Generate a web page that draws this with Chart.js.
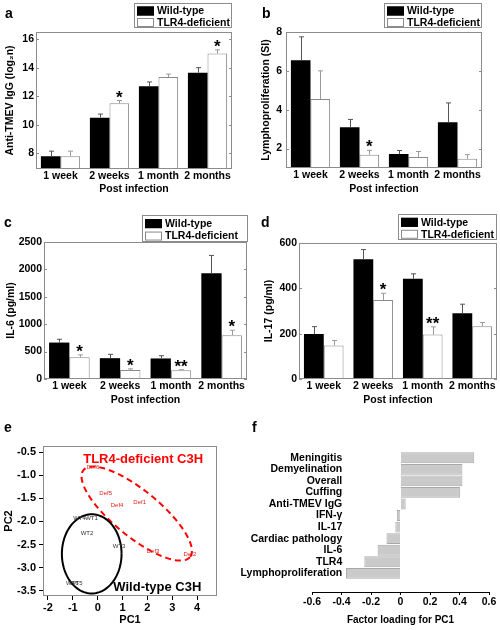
<!DOCTYPE html>
<html>
<head>
<meta charset="utf-8">
<script src="https://cdn.jsdelivr.net/npm/chart.js@4.4.1/dist/chart.umd.min.js"></script>
<style>
  body { margin: 0; background: #fff; }
  #figure { position: relative; width: 500px; height: 630px; overflow: hidden; font-family: 'Liberation Sans', Arial, sans-serif; }
  #figure canvas { position: absolute; }
  .panel-letter { position: absolute; font-weight: bold; font-size: 14px; line-height: 14px; }
</style>
</head>
<body>
<div id="figure">
  <canvas id="chartA" width="250" height="195" style="left:0;top:0"></canvas>
  <canvas id="chartB" width="250" height="195" style="left:250px;top:0"></canvas>
  <canvas id="chartC" width="250" height="211" style="left:0;top:195px"></canvas>
  <canvas id="chartD" width="250" height="211" style="left:250px;top:195px"></canvas>
  <canvas id="chartE" width="230" height="222" style="left:0;top:408px"></canvas>
  <canvas id="chartF" width="270" height="222" style="left:230px;top:408px"></canvas>
  <span class="panel-letter" style="left:5px;top:6px">a</span>
  <span class="panel-letter" style="left:262px;top:6px">b</span>
  <span class="panel-letter" style="left:4px;top:215px">c</span>
  <span class="panel-letter" style="left:261px;top:215px">d</span>
  <span class="panel-letter" style="left:4px;top:420px">e</span>
  <span class="panel-letter" style="left:252px;top:420px">f</span>
</div>
<script>
'use strict';

const timePoints = ['1 week', '2 weeks', '1 month', '2 months'];
const groupNames = ['Wild-type', 'TLR4-deficient'];

// a: anti-TMEV IgG
let iggWildType = [7.8, 10.5, 12.7, 13.65];
let iggWildTypeSem = [0.35, 0.25, 0.3, 0.35];
let iggDeficient = [7.8, 11.5, 13.35, 15.0];
let iggDeficientSem = [0.35, 0.2, 0.2, 0.25];
let iggStars = ['', '*', '', '*'];
let iggTicks = [8, 10, 12, 14, 16];

// b: lymphoproliferation
let lymphoWildType = [6.55, 3.1, 1.72, 3.35];
let lymphoWildTypeSem = [1.2, 0.4, 0.18, 1.0];
let lymphoDeficient = [4.55, 1.68, 1.57, 1.47];
let lymphoDeficientSem = [1.45, 0.23, 0.28, 0.22];
let lymphoStars = ['', '*', '', ''];
let lymphoTicks = [2, 4, 6, 8];

// c: IL-6
let il6WildType = [665, 380, 375, 1930];
let il6WildTypeSem = [60, 70, 50, 325];
let il6Deficient = [395, 165, 160, 800];
let il6DeficientSem = [45, 20, 10, 90];
let il6Stars = ['*', '*', '**', '*'];
let il6Ticks = [0, 500, 1000, 1500, 2000, 2500];

// d: IL-17
let il17WildType = [198, 528, 442, 290];
let il17WildTypeSem = [33, 43, 22, 40];
let il17Deficient = [148, 348, 196, 233];
let il17DeficientSem = [22, 30, 34, 16];
let il17Stars = ['', '*', '**', ''];
let il17Ticks = [0, 200, 400, 600];

// e: PCA scores
let defLabels = ['Def6', 'Def5', 'Def4', 'Def1', 'Def3', 'Def2'];
let defPc1 = [-0.19, 0.32, 0.78, 1.69, 2.23, 3.71];
let defPc2 = [-0.84, -1.39, -1.65, -1.58, -2.64, -2.71];
let wtLabels = ['WT4', 'WT1', 'WT2', 'WT3', 'WT6', 'WT5'];
let wtPc1 = [-0.73, -0.25, -0.43, 0.86, -1.02, -0.86];
let wtPc2 = [-1.94, -1.94, -2.26, -2.53, -3.33, -3.34];
let pc1Ticks = [-2, -1, 0, 1, 2, 3, 4];
let pc2Ticks = [-3.5, -3.0, -2.5, -2.0, -1.5, -1.0, -0.5];

// ellipses round each group: centre, half major axis, half minor axis (PC units)
let ellipseCentre = [[1.57, -1.83], [-0.24, -2.70]];
let ellipseMajor = [[2.14, -0.94], [1.20, 0]];
let ellipseMinor = [[-0.59, -0.385], [0, 0.855]];

// f: factor loadings
let factorNames = ['Meningitis', 'Demyelination', 'Overall', 'Cuffing', 'Anti-TMEV IgG', 'IFN-\u03b3',
    'IL-17', 'Cardiac pathology', 'IL-6', 'TLR4', 'Lymphoproliferation'];
let factorLoadings = [0.50, 0.42, 0.42, 0.405, 0.035, -0.025, -0.035, -0.095, -0.155, -0.245, -0.37];
let loadingTicks = [-0.6, -0.4, -0.2, 0, 0.2, 0.4, 0.6];

const fontFamily = '"Liberation Sans", Arial, sans-serif';
const axisFont = { family: fontFamily, size: 10.5, weight: 'bold' };

const framePlugin = {
    id: 'frame',
    afterDraw(chart) {
        const ctx = chart.ctx;
        const a = chart.chartArea;
        ctx.save();
        ctx.strokeStyle = '#8c8c8c';
        ctx.lineWidth = 1;
        ctx.strokeRect(a.left + 0.5, a.top + 0.5, a.right - a.left - 1, a.bottom - a.top - 1);
        if (chart.config.type === 'bar') {
            ctx.beginPath();
            chart.scales.y.ticks.forEach(t => {
                const py = Math.round(chart.scales.y.getPixelForValue(t.value)) + 0.5;
                ctx.moveTo(a.left, py);
                ctx.lineTo(a.left + 3, py);
                ctx.moveTo(a.right - 3, py);
                ctx.lineTo(a.right, py);
            });
            ctx.stroke();
        }
        ctx.restore();
    }
};

const errorBarPlugin = {
    id: 'errorBars',
    afterDatasetsDraw(chart) {
        const ctx = chart.ctx;
        const yScale = chart.scales.y;
        chart.data.datasets.forEach((dataset, i) => {
            const meta = chart.getDatasetMeta(i);
            meta.data.forEach((bar, j) => {
                const top = yScale.getPixelForValue(dataset.data[j] + dataset.sem[j]);
                const x = Math.round(bar.x) + 0.5;
                ctx.save();
                ctx.strokeStyle = dataset.errorColor;
                ctx.lineWidth = 1;
                ctx.beginPath();
                ctx.moveTo(x, bar.y);
                ctx.lineTo(x, top);
                ctx.moveTo(x - 2.5, top);
                ctx.lineTo(x + 2.5, top);
                ctx.stroke();
                if (dataset.stars[j]) {
                    ctx.fillStyle = '#000';
                    ctx.font = 'bold 17px ' + fontFamily;
                    ctx.textAlign = 'center';
                    ctx.textBaseline = 'alphabetic';
                    ctx.fillText(dataset.stars[j], bar.x, top + 2);
                }
                ctx.restore();
            });
        });
    }
};

const boxLegendPlugin = {
    id: 'boxLegend',
    afterDraw(chart, args, opts) {
        const ctx = chart.ctx;
        const right = chart.chartArea.right + opts.dx;
        const left = right - opts.width;
        const top = chart.chartArea.top - opts.gap - opts.height;
        ctx.save();
        ctx.fillStyle = '#fff';
        ctx.fillRect(left, top, opts.width, opts.height);
        ctx.strokeStyle = '#8c8c8c';
        ctx.lineWidth = 1;
        ctx.strokeRect(left + 0.5, top + 0.5, opts.width - 1, opts.height - 1);
        chart.data.datasets.forEach((ds, i) => {
            const cy = top + opts.height * (0.32 + 0.46 * i);
            ctx.fillStyle = ds.backgroundColor;
            ctx.fillRect(left + 3, cy - 4.5, 17, 9);
            ctx.strokeStyle = ds.borderColor;
            ctx.strokeRect(left + 3.5, cy - 4, 16, 8);
            ctx.fillStyle = '#000';
            ctx.font = 'bold 10.5px ' + fontFamily;
            ctx.textAlign = 'left';
            ctx.textBaseline = 'middle';
            ctx.fillText(ds.label, left + 23, cy + 0.5);
        });
        ctx.restore();
    }
};

function makeBarChart(canvasId, area, axis, legendBox, wildType, deficient) {
    const canvas = document.getElementById(canvasId);
    return new Chart(canvas, {
        type: 'bar',
        data: {
            labels: timePoints,
            datasets: [
                {
                    label: groupNames[0],
                    data: wildType[0],
                    sem: wildType[1],
                    stars: ['', '', '', ''],
                    backgroundColor: '#000000',
                    borderColor: '#000000',
                    borderWidth: 0,
                    errorColor: '#555555',
                },
                {
                    label: groupNames[1],
                    data: deficient[0],
                    sem: deficient[1],
                    stars: deficient[2],
                    backgroundColor: '#ffffff',
                    borderColor: '#8a8a8a',
                    borderWidth: 1,
                    errorColor: '#9a9a9a',
                },
            ]
        },
        options: {
            responsive: false,
            animation: false,
            devicePixelRatio: 1,
            categoryPercentage: 0.8,
            barPercentage: 1.0,
            layout: { padding: { left: 0, top: area.top, right: canvas.width - area.right, bottom: 0 } },
            plugins: {
                legend: { display: false },
                tooltip: { enabled: false },
                boxLegend: legendBox,
            },
            scales: {
                x: {
                    grid: { display: false, drawTicks: false },
                    border: { display: false },
                    ticks: { color: '#000', font: axisFont, padding: 1, maxRotation: 0, minRotation: 0, autoSkip: false },
                    title: { display: true, text: 'Post infection', color: '#000', font: axisFont, padding: 0 },
                    afterFit(scale) { scale.height = canvas.height - area.bottom; },
                },
                y: {
                    min: axis.min,
                    max: axis.max,
                    grid: { display: false, drawTicks: false },
                    border: { display: false },
                    afterBuildTicks(scale) { scale.ticks = axis.ticks.map(v => ({ value: v })); },
                    ticks: { color: '#000', font: axisFont, padding: area.tickPad, callback: v => String(v) },
                    title: { display: true, text: axis.title, color: '#000', font: axisFont, padding: { top: area.titlePad, bottom: 0 } },
                    afterFit(scale) { scale.width = area.left; },
                },
            },
        },
        plugins: [framePlugin, errorBarPlugin, boxLegendPlugin],
    });
}

makeBarChart('chartA',
    { left: 36, top: 32, right: 232, bottom: 169, tickPad: 2, titlePad: 3.5 },
    { min: 6.9, max: 16.5, ticks: iggTicks, title: 'Anti-TMEV IgG (log\u2082n)' },
    { width: 98, height: 25, gap: 4, dx: 0 },
    [iggWildType, iggWildTypeSem], [iggDeficient, iggDeficientSem, iggStars]);

makeBarChart('chartB',
    { left: 36, top: 32, right: 232, bottom: 168, tickPad: 4, titlePad: 10 },
    { min: 1, max: 8, ticks: lymphoTicks, title: 'Lymphoproliferation (SI)' },
    { width: 98, height: 25, gap: 4, dx: 0 },
    [lymphoWildType, lymphoWildTypeSem], [lymphoDeficient, lymphoDeficientSem, lymphoStars]);

makeBarChart('chartC',
    { left: 44, top: 47, right: 247, bottom: 184, tickPad: 2, titlePad: 4.5 },
    { min: 0, max: 2500, ticks: il6Ticks, title: 'IL-6 (pg/ml)' },
    { width: 106, height: 27, gap: 0, dx: 1 },
    [il6WildType, il6WildTypeSem], [il6Deficient, il6DeficientSem, il6Stars]);

makeBarChart('chartD',
    { left: 49, top: 48, right: 247, bottom: 184, tickPad: 2, titlePad: 13 },
    { min: 0, max: 600, ticks: il17Ticks, title: 'IL-17 (pg/ml)' },
    { width: 99, height: 26, gap: 3, dx: 0 },
    [il17WildType, il17WildTypeSem], [il17Deficient, il17DeficientSem, il17Stars]);

// e: PCA score plot
const pcaPlugin = {
    id: 'pcaExtras',
    afterDatasetsDraw(chart) {
        const ctx = chart.ctx;
        const xs = chart.scales.x;
        const ys = chart.scales.y;
        const colors = ['#ff0000', '#000000'];
        ctx.save();
        for (let e = 0; e < ellipseCentre.length; e++) {
            ctx.beginPath();
            for (let k = 0; k <= 120; k++) {
                const t = k / 120 * Math.PI * 2;
                const px = xs.getPixelForValue(ellipseCentre[e][0] + Math.cos(t) * ellipseMajor[e][0] + Math.sin(t) * ellipseMinor[e][0]);
                const py = ys.getPixelForValue(ellipseCentre[e][1] + Math.cos(t) * ellipseMajor[e][1] + Math.sin(t) * ellipseMinor[e][1]);
                if (k === 0) {
                    ctx.moveTo(px, py);
                } else {
                    ctx.lineTo(px, py);
                }
            }
            ctx.strokeStyle = colors[e];
            ctx.lineWidth = 2;
            ctx.setLineDash(e === 0 ? [6, 4] : []);
            ctx.stroke();
        }
        ctx.setLineDash([]);
        chart.data.datasets.forEach((ds, i) => {
            const meta = chart.getDatasetMeta(i);
            ctx.fillStyle = ds.labelColor;
            ctx.font = '6px ' + fontFamily;
            ctx.textAlign = 'center';
            ctx.textBaseline = 'middle';
            meta.data.forEach((pt, j) => ctx.fillText(ds.pointLabels[j], pt.x, pt.y));
        });
        ctx.font = 'bold 13px ' + fontFamily;
        ctx.fillStyle = '#ff0000';
        ctx.fillText('TLR4-deficient C3H', xs.getPixelForValue(1.83), ys.getPixelForValue(-0.65));
        ctx.fillStyle = '#000000';
        ctx.fillText('Wild-type C3H', xs.getPixelForValue(2.4), ys.getPixelForValue(-3.42));
        ctx.restore();
    }
};

const pcaCanvas = document.getElementById('chartE');
new Chart(pcaCanvas, {
    type: 'scatter',
    data: {
        datasets: [
            {
                label: 'TLR4-deficient C3H',
                data: defPc1.map((v, i) => ({ x: v, y: defPc2[i] })),
                pointLabels: defLabels,
                labelColor: '#e0201a',
                pointRadius: 0,
            },
            {
                label: 'Wild-type C3H',
                data: wtPc1.map((v, i) => ({ x: v, y: wtPc2[i] })),
                pointLabels: wtLabels,
                labelColor: '#333333',
                pointRadius: 0,
            },
        ]
    },
    options: {
        responsive: false,
        animation: false,
        devicePixelRatio: 1,
        layout: { padding: { left: 0, top: 38, right: 13, bottom: 0 } },
        plugins: { legend: { display: false }, tooltip: { enabled: false } },
        scales: {
            x: {
                min: -2.2,
                max: 4.8,
                grid: { display: true, drawOnChartArea: false, drawTicks: true, tickLength: 4, color: '#000' },
                border: { display: false },
                afterBuildTicks(scale) { scale.ticks = pc1Ticks.map(v => ({ value: v })); },
                ticks: { color: '#000', font: { family: fontFamily, size: 11, weight: 'bold' }, padding: 1.5, callback: v => String(v) },
                title: { display: true, text: 'PC1', color: '#000', font: { family: fontFamily, size: 11, weight: 'bold' }, padding: { top: 0, bottom: 3.4 } },
                afterFit(scale) { scale.height = 34; },
            },
            y: {
                min: -3.61,
                max: -0.37,
                grid: { display: true, drawOnChartArea: false, drawTicks: true, tickLength: 4, color: '#000' },
                border: { display: false },
                afterBuildTicks(scale) { scale.ticks = pc2Ticks.map(v => ({ value: v })); },
                ticks: { color: '#000', font: { family: fontFamily, size: 11, weight: 'bold' }, padding: 3, callback: v => v.toFixed(1) },
                title: { display: true, text: 'PC2', color: '#000', font: { family: fontFamily, size: 11, weight: 'bold' }, padding: { top: 2.4, bottom: 0 } },
                afterFit(scale) { scale.width = 43; },
            },
        },
    },
    plugins: [framePlugin, pcaPlugin],
});

// f: factor loadings for PC1
const loadingCanvas = document.getElementById('chartF');
new Chart(loadingCanvas, {
    type: 'bar',
    data: {
        datasets: [{
            label: 'Factor loading for PC1',
            data: factorLoadings.map((v, i) => ({ x: v, y: i })),
            backgroundColor: '#cacaca',
            borderColor: '#a8a8a8',
            borderWidth: 1,
            categoryPercentage: 1.0,
            barPercentage: 0.94,
        }]
    },
    options: {
        indexAxis: 'y',
        responsive: false,
        animation: false,
        devicePixelRatio: 1,
        layout: { padding: { left: 82, top: 32, right: 11, bottom: 0 } },
        plugins: { legend: { display: false }, tooltip: { enabled: false } },
        scales: {
            x: {
                type: 'linear',
                min: -0.6,
                max: 0.6,
                grid: { display: true, drawOnChartArea: false, drawTicks: true, tickLength: 3, color: '#000' },
                border: { display: true, color: '#000', width: 1 },
                afterBuildTicks(scale) { scale.ticks = loadingTicks.map(v => ({ value: v })); },
                ticks: { color: '#000', font: { family: fontFamily, size: 10.5, weight: 'bold' }, padding: 1,
                    callback: v => (Math.abs(v) < 1e-9 ? '0' : v.toFixed(1)) },
                title: { display: true, text: 'Factor loading for PC1', color: '#000', font: { family: fontFamily, size: 10, weight: 'bold' }, padding: { top: 0, bottom: 4 } },
                afterFit(scale) { scale.height = 38; },
            },
            y: {
                type: 'linear',
                position: { x: -0.395 },
                reverse: true,
                min: -0.94,
                max: 11.02,
                grid: { display: false, drawTicks: false },
                border: { display: false },
                afterBuildTicks(scale) { scale.ticks = factorNames.map((n, i) => ({ value: i })); },
                ticks: { color: '#000', font: { family: fontFamily, size: 10.5, weight: 'bold' }, autoSkip: false,
                    callback: v => factorNames[v] },
            },
        },
    },
});
</script>
</body>
</html>
